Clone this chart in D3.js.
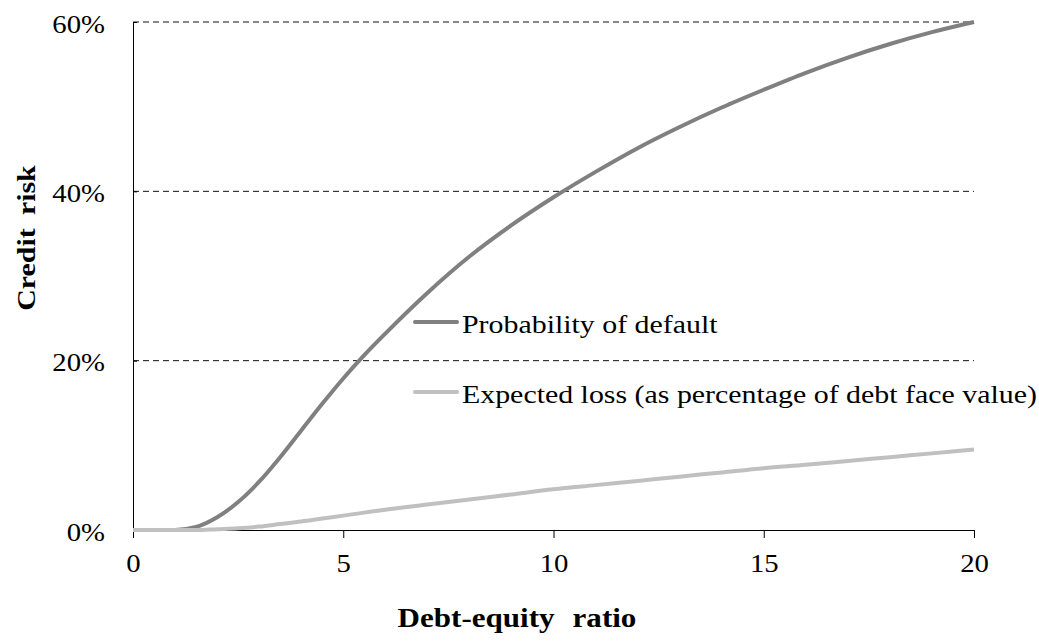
<!DOCTYPE html>
<html>
<head>
<meta charset="utf-8">
<script src="https://cdn.jsdelivr.net/npm/d3@7"></script>
<style>
  body { margin: 0; background: #fff; }
  text { font-family: "Liberation Serif", "Times New Roman", serif; }
</style>
</head>
<body>
<div id="canvas"></div>
<script>
// --- data
var ratio = [0, 1, 1.5, 2, 2.5, 3, 3.5, 4, 4.5, 5, 5.5, 6, 7, 8, 9, 10, 11, 12, 13, 14, 15, 16, 17, 18, 19, 20];
var probDefault = [0, 0, 0.35, 1.5, 3.3, 5.7, 8.6, 11.75, 14.9, 17.9, 20.65, 23.2, 28.0, 32.3, 36.0, 39.3, 42.3, 45.1, 47.6, 49.9, 52.0, 54.0, 55.8, 57.4, 58.8, 60];
var expLoss = [0, 0, 0, 0.1, 0.2, 0.4, 0.7, 1.0, 1.35, 1.7, 2.05, 2.4, 3.0, 3.6, 4.2, 4.8, 5.3, 5.8, 6.3, 6.8, 7.3, 7.7, 8.15, 8.6, 9.05, 9.5];
var seriesNames = ['Probability of default', 'Expected loss (as percentage of debt face value)'];
var xTicks = [0, 5, 10, 15, 20];
var yTicks = [0, 20, 40, 60];

var W = 1039, H = 644;
var M = {top: 22, right: 65, bottom: 114, left: 133};
var w = W - M.left - M.right,
    h = H - M.top - M.bottom;
var SX = 1.15; // text in the reference is a bit wider than plain Times

var svg = d3.select('#canvas').append('svg')
    .attr('width', W).attr('height', H);
var plot = svg.append('g')
    .attr('transform', 'translate(' + M.left + ',' + M.top + ')');

var x = d3.scaleLinear().domain([0, 20]).range([0, w]);
var y = d3.scaleLinear().domain([0, 60]).range([h, 0]);

// gridlines
plot.selectAll('.grid').data(yTicks.filter(function(d){ return d > 0; }))
  .enter().append('line')
    .attr('x1', 0).attr('x2', w)
    .attr('y1', function(d){ return y(d); })
    .attr('y2', function(d){ return y(d); })
    .attr('stroke', '#111').attr('stroke-width', 1)
    .attr('stroke-dasharray', '6,4');

// axes
var xAxis = plot.append('g').attr('transform', 'translate(0,' + h + ')')
    .call(d3.axisBottom(x).tickValues(xTicks).tickSize(8).tickPadding(16).tickSizeOuter(0));
var yAxis = plot.append('g')
    .call(d3.axisLeft(y).tickValues(yTicks).tickSize(8).tickPadding(20)
      .tickFormat(function(d){ return d + '%'; }).tickSizeOuter(0));
yAxis.selectAll('.tick line').attr('x2', 4);
[xAxis, yAxis].forEach(function(a){
  a.attr('font-family', null);
  a.selectAll('text').style('font-size', '25px').attr('fill', '#000');
  a.selectAll('line, path').attr('stroke', '#000');
});
yAxis.selectAll('text').attr('dy', '0.4em');

// lines
var line = d3.line()
    .x(function(d, i){ return x(ratio[i]); })
    .y(function(d){ return y(d); })
    .curve(d3.curveMonotoneX);

var colors = ['#808080', '#c0c0c0'];
[probDefault, expLoss].forEach(function(s, i){
  plot.append('path')
    .attr('d', line(s))
    .attr('fill', 'none')
    .attr('stroke', colors[i])
    .attr('stroke-width', 4);
});

// legend
var legY = [322, 392];
seriesNames.forEach(function(n, i){
  svg.append('line')
    .attr('x1', 415).attr('x2', 457)
    .attr('y1', legY[i]).attr('y2', legY[i])
    .attr('stroke', colors[i]).attr('stroke-width', 4)
    .attr('stroke-linecap', 'round');
  svg.append('text')
    .attr('x', 462).attr('y', legY[i] + 11)
    .style('font-size', '26px')
    .text(n);
});

// axis titles
svg.append('text')
  .attr('x', 517).attr('y', 627)
  .attr('text-anchor', 'middle')
  .style('font-size', '27px').style('font-weight', 'bold').style('word-spacing', '9px')
  .text('Debt-equity ratio');
svg.append('text')
  .attr('transform', 'translate(35,238) rotate(-90)')
  .attr('text-anchor', 'middle')
  .style('font-size', '26px').style('font-weight', 'bold').style('word-spacing', '5px')
  .text('Credit risk');

// widen every label a little (scale the glyphs, keep the anchor point)
svg.selectAll('text').each(function(){
  var t = d3.select(this);
  var old = t.attr('transform');
  if (old) {
    t.attr('transform', old + ' scale(' + SX + ',1)');
  } else {
    var x0 = +t.attr('x') || 0;
    t.attr('x', x0 / SX).attr('transform', 'scale(' + SX + ',1)');
  }
});
</script>
</body>
</html>
